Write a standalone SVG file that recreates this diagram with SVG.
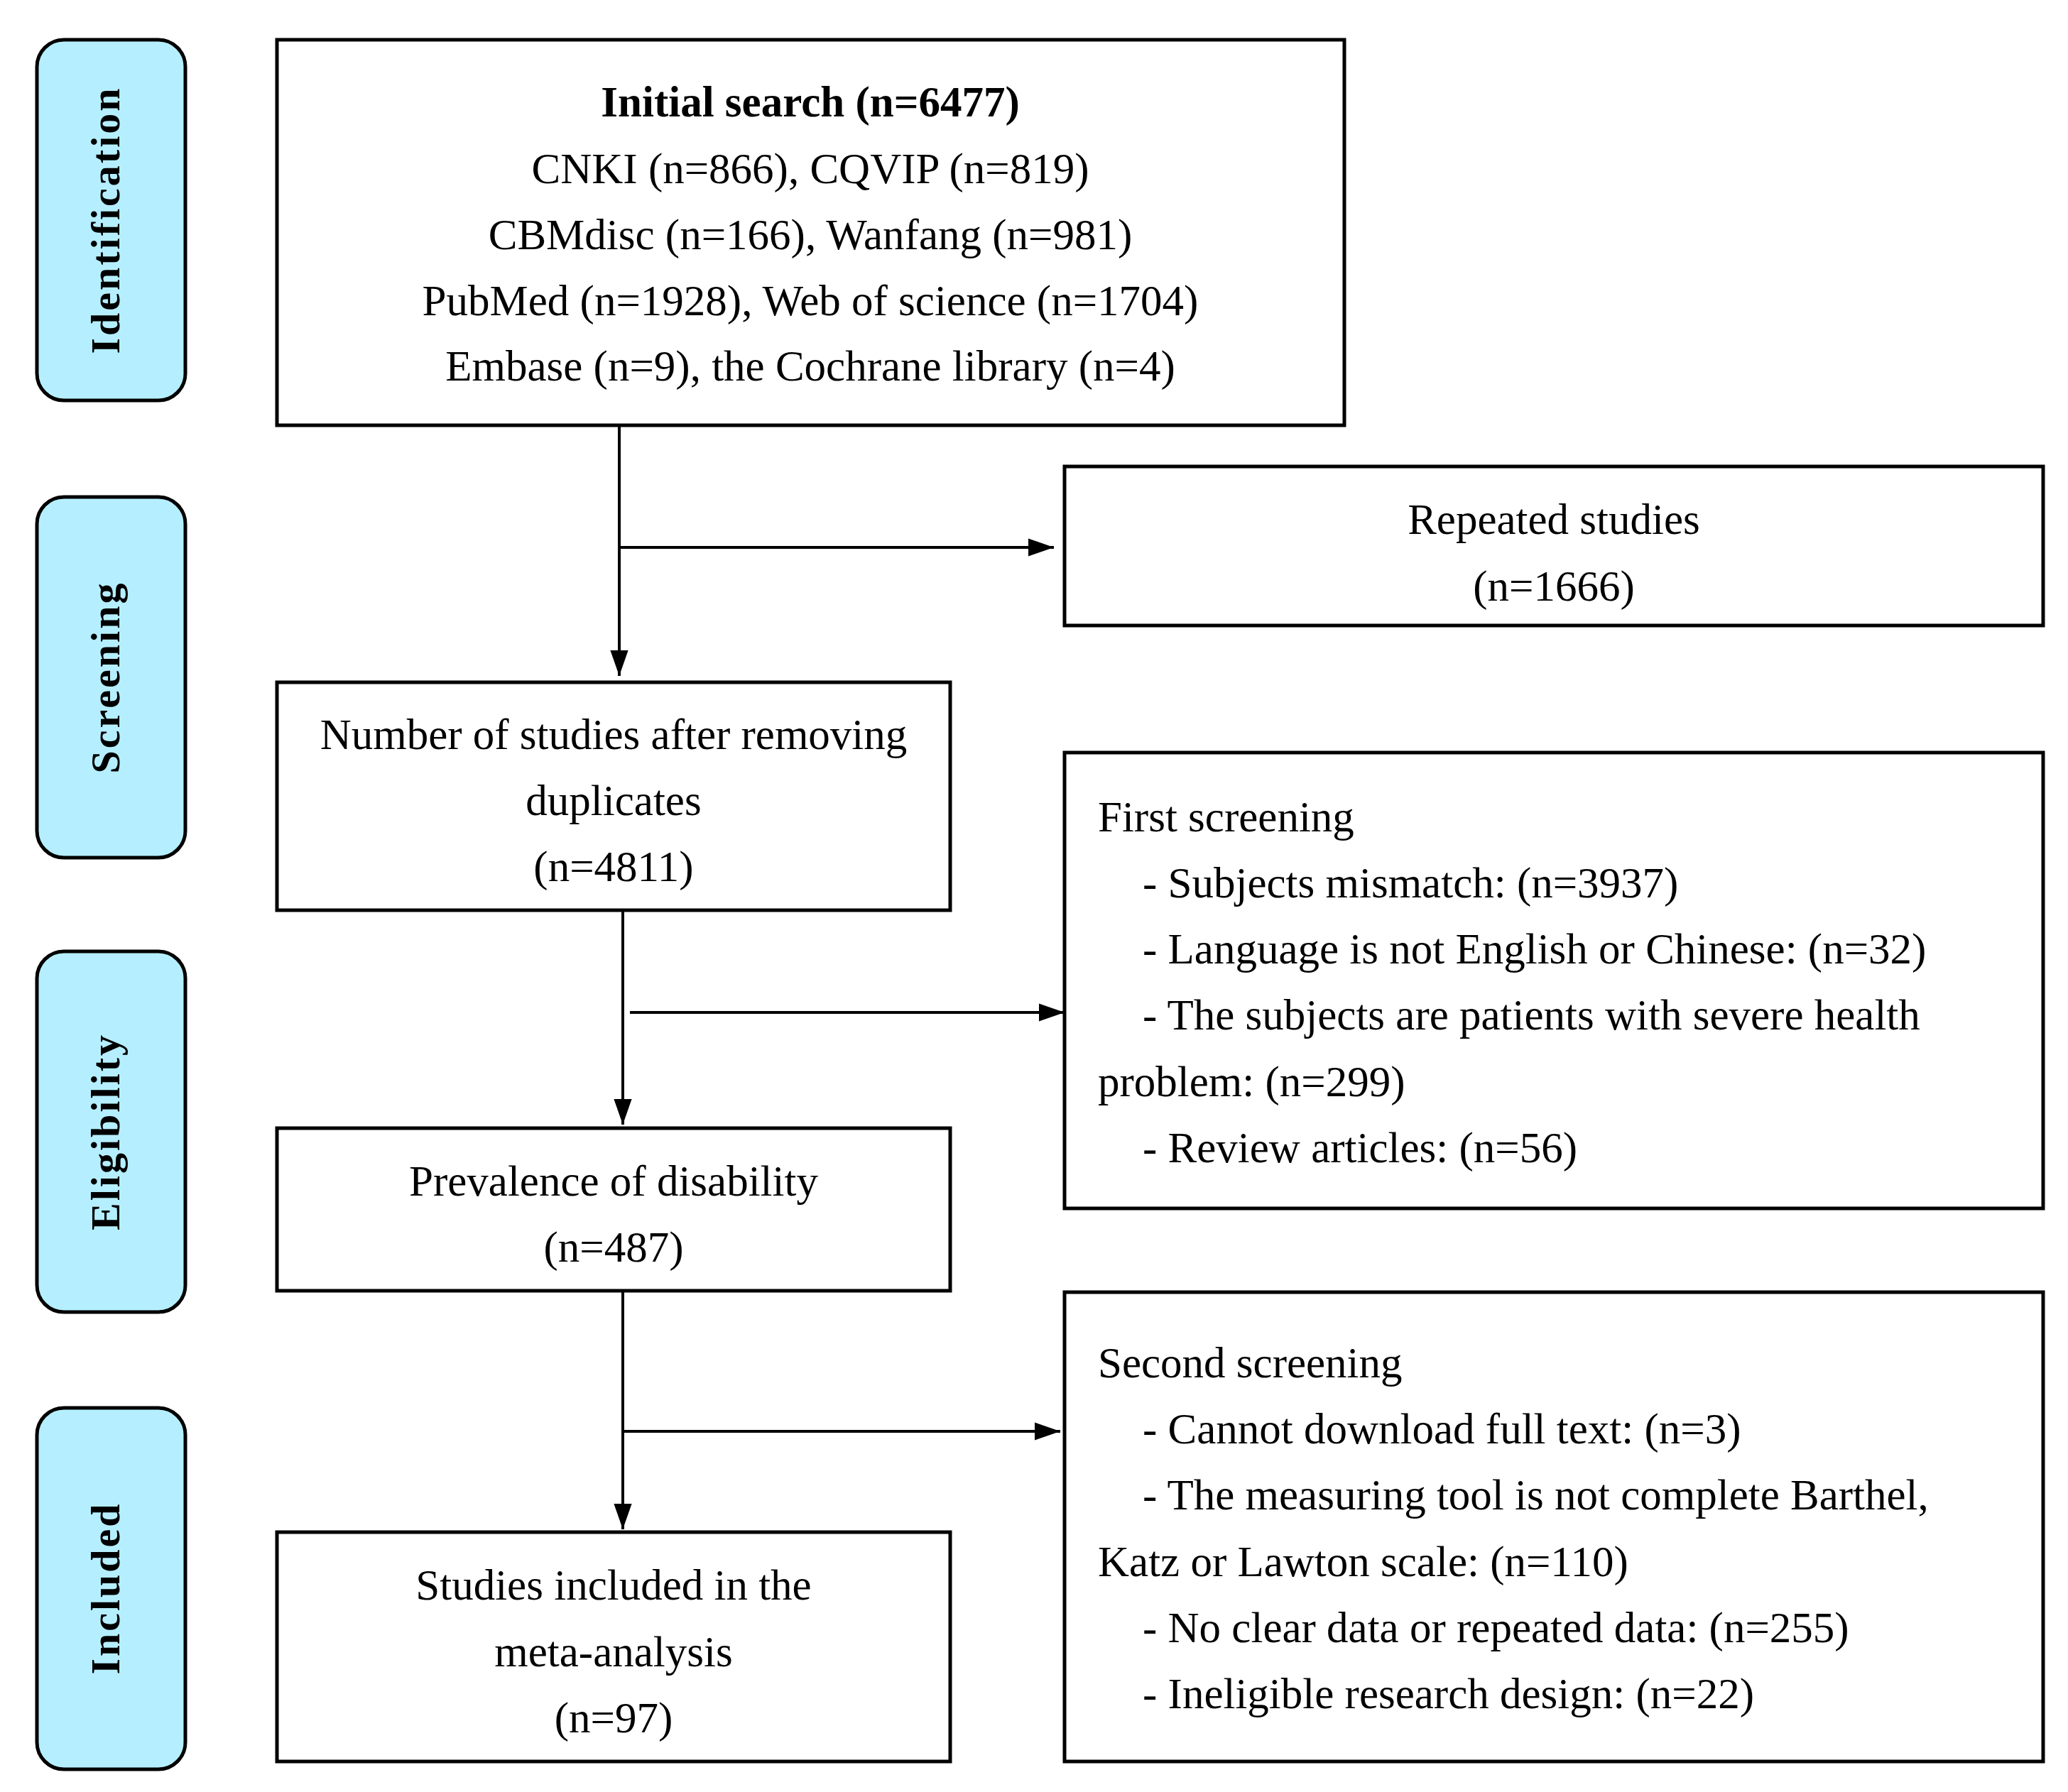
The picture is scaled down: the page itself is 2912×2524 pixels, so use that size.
<svg xmlns="http://www.w3.org/2000/svg" width="2912" height="2524" viewBox="0 0 2912 2524">
<style>
.box{fill:#fff;stroke:#000;stroke-width:5}
.side{fill:#b5efff;stroke:#000;stroke-width:5}
.t{font-family:"Liberation Serif",serif;font-size:61px;fill:#000}
.c{text-anchor:middle}
.s{font-family:"Liberation Serif",serif;font-size:58px;font-weight:bold;letter-spacing:3px;text-anchor:middle;fill:#000}
.ln{stroke:#000;stroke-width:4;fill:none}
</style>
<defs>
<marker id="a" viewBox="0 0 10 10" refX="10" refY="5" markerWidth="36" markerHeight="36" markerUnits="userSpaceOnUse" orient="auto"><path d="M0,1.5 L10,5 L0,8.5 z" fill="#000"/></marker></defs>
<g id="lbl-identification"><rect class="side" x="52" y="56" width="209" height="508" rx="38"/><text class="s" transform="translate(168,310) rotate(-90)">Identification</text></g>
<g id="lbl-screening"><rect class="side" x="52" y="700" width="209" height="508" rx="38"/><text class="s" transform="translate(168,954) rotate(-90)">Screening</text></g>
<g id="lbl-eligibility"><rect class="side" x="52" y="1340" width="209" height="508" rx="38"/><text class="s" transform="translate(168,1594) rotate(-90)">Eligibility</text></g>
<g id="lbl-included"><rect class="side" x="52" y="1983" width="209" height="509" rx="38"/><text class="s" transform="translate(168,2237) rotate(-90)">Included</text></g>
<g id="initial"><rect class="box" x="390" y="56" width="1503" height="543"/>
<text class="t c" x="1141" y="164" font-weight="bold">Initial search (n=6477)</text>
<text class="t c" x="1141" y="258">CNKI (n=866), CQVIP (n=819)</text>
<text class="t c" x="1141" y="351">CBMdisc (n=166), Wanfang (n=981)</text>
<text class="t c" x="1141" y="444">PubMed (n=1928), Web of science (n=1704)</text>
<text class="t c" x="1141" y="536">Embase (n=9), the Cochrane library (n=4)</text></g>
<g id="repeated"><rect class="box" x="1499" y="657" width="1378" height="224"/>
<text class="t c" x="2188" y="752">Repeated studies</text><text class="t c" x="2188" y="846">(n=1666)</text></g>
<g id="after-dup"><rect class="box" x="390" y="961" width="948" height="321"/>
<text class="t c" x="864" y="1055">Number of studies after removing</text><text class="t c" x="864" y="1148">duplicates</text><text class="t c" x="864" y="1241">(n=4811)</text></g>
<g id="first"><rect class="box" x="1499" y="1060" width="1378" height="642"/>
<text class="t" x="1546" y="1171">First screening</text>
<text class="t" x="1609" y="1264">- Subjects mismatch: (n=3937)</text>
<text class="t" x="1609" y="1357">- Language is not English or Chinese: (n=32)</text>
<text class="t" x="1609" y="1450">- The subjects are patients with severe health</text>
<text class="t" x="1546" y="1544">problem: (n=299)</text>
<text class="t" x="1609" y="1637">- Review articles: (n=56)</text></g>
<g id="prevalence"><rect class="box" x="390" y="1589" width="948" height="229"/>
<text class="t c" x="864" y="1684">Prevalence of disability</text><text class="t c" x="864" y="1777">(n=487)</text></g>
<g id="second"><rect class="box" x="1499" y="1820" width="1378" height="661"/>
<text class="t" x="1546" y="1940">Second screening</text>
<text class="t" x="1609" y="2033">- Cannot download full text: (n=3)</text>
<text class="t" x="1609" y="2126">- The measuring tool is not complete Barthel,</text>
<text class="t" x="1546" y="2220">Katz or Lawton scale: (n=110)</text>
<text class="t" x="1609" y="2313">- No clear data or repeated data: (n=255)</text>
<text class="t" x="1609" y="2406">- Ineligible research design: (n=22)</text></g>
<g id="included"><rect class="box" x="390" y="2158" width="948" height="323"/>
<text class="t c" x="864" y="2253">Studies included in the</text><text class="t c" x="864" y="2347">meta-analysis</text><text class="t c" x="864" y="2440">(n=97)</text></g>
<g id="connectors">
<line class="ln" x1="872" y1="599" x2="872" y2="952" marker-end="url(#a)"/>
<line class="ln" x1="872" y1="771" x2="1484" y2="771" marker-end="url(#a)"/>
<line class="ln" x1="877" y1="1282" x2="877" y2="1584" marker-end="url(#a)"/>
<line class="ln" x1="887" y1="1426" x2="1499" y2="1426" marker-end="url(#a)"/>
<line class="ln" x1="877" y1="1818" x2="877" y2="2154" marker-end="url(#a)"/>
<line class="ln" x1="877" y1="2016" x2="1493" y2="2016" marker-end="url(#a)"/>
</g>
</svg>
